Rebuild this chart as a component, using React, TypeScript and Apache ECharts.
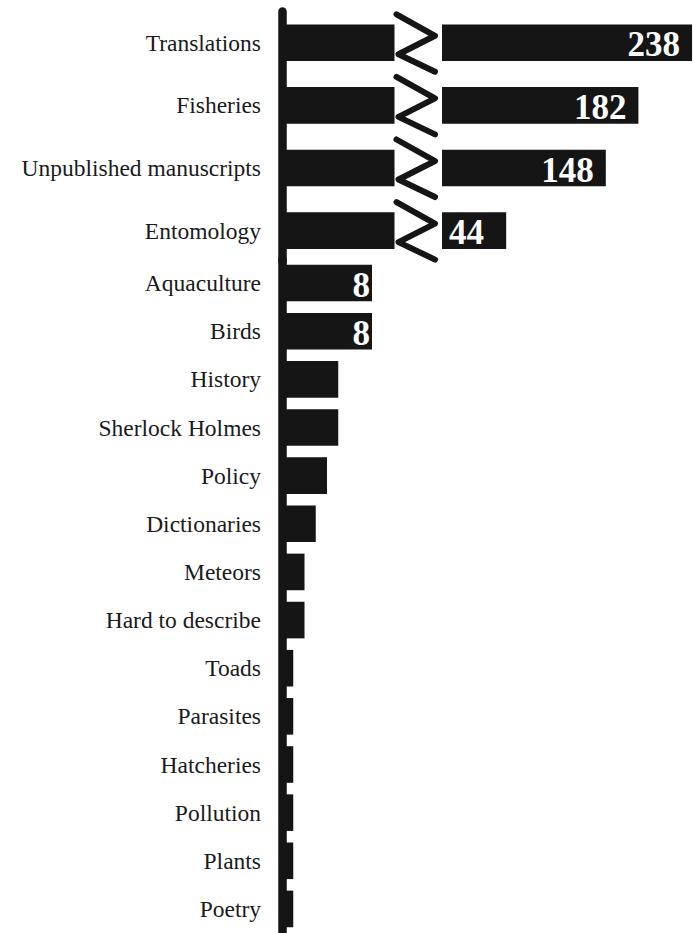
import { useEffect, useRef } from "react";
import * as echarts from "echarts";

// ---- data ----
const topCategories = ["Translations", "Fisheries", "Unpublished manuscripts", "Entomology"];
const topValues = [238, 182, 148, 44];
const restCategories = [
  "Aquaculture",
  "Birds",
  "History",
  "Sherlock Holmes",
  "Policy",
  "Dictionaries",
  "Meteors",
  "Hard to describe",
  "Toads",
  "Parasites",
  "Hatcheries",
  "Pollution",
  "Plants",
  "Poetry",
];
const restValues = [8, 8, 5, 5, 4, 3, 2, 2, 1, 1, 1, 1, 1, 1];

// broken-axis settings
const BREAK_AT = 10; // bars longer than this are broken
const LABEL_MIN = 8; // values shown as labels from here on
const MAIN_MAX = 36;
const UPPER_MIN = -23; // compressed scale used after the break
const UPPER_MAX = 239;

const INK = "#151515";
const BAR_W = 36.6;
const SERIF = "'Liberation Serif', 'Times New Roman', serif";

export default function App() {
  const ref = useRef<HTMLDivElement>(null);

  useEffect(() => {
    const chart = echarts.init(ref.current!, null, { renderer: "svg" });

    const valueLabel = (text: string, x: number, y: number, align: string) => ({
      type: "text",
      style: {
        text,
        x,
        y,
        align,
        verticalAlign: "middle",
        fill: "#ffffff",
        fontSize: 35,
        fontWeight: "bold",
        fontFamily: SERIF,
      },
    });

    const catAxis = (gridIndex: number, data: string[], show: boolean) => ({
      type: "category",
      gridIndex,
      data,
      inverse: true,
      show,
      axisLine: { show: true, lineStyle: { color: INK, width: 8.5, cap: "round" } },
      axisTick: { show: false },
      axisLabel: { margin: 21, fontSize: 23.5, fontFamily: SERIF, color: "#1a1a1a" },
      splitLine: { show: false },
    });

    const option = {
      animation: false,
      backgroundColor: "#ffffff",
      grid: [
        { left: 282, top: 11.5, width: 405, height: 250.4 },
        { left: 282, top: 259, width: 405, height: 678.4 },
        { left: 442, top: 11.5, width: 251, height: 250.4 },
      ],
      xAxis: [
        { type: "value", gridIndex: 0, min: 0, max: MAIN_MAX, show: false },
        { type: "value", gridIndex: 1, min: 0, max: MAIN_MAX, show: false },
        { type: "value", gridIndex: 2, min: UPPER_MIN, max: UPPER_MAX, show: false },
      ],
      yAxis: [
        catAxis(0, topCategories, true),
        catAxis(1, restCategories, true),
        catAxis(2, topCategories, false),
      ],
      series: [
        {
          type: "custom",
          xAxisIndex: 0,
          yAxisIndex: 0,
          data: topValues.map((v, i) => [v, i]),
          encode: { x: 0, y: 1 },
          renderItem: (_params: any, api: any) => {
            const v = api.value(0);
            const i = api.value(1);
            const start = api.coord([0, i]);
            const end = api.coord([Math.min(v, BREAK_AT), i]);
            const children: any[] = [
              {
                type: "rect",
                shape: { x: start[0], y: start[1] - BAR_W / 2, width: end[0] - start[0], height: BAR_W },
                style: { fill: INK },
              },
            ];
            if (v > BREAK_AT) {
              const bx = end[0];
              const cy = end[1];
              children.push({
                type: "polyline",
                shape: {
                  points: [
                    [bx + 2, cy - 28.5],
                    [bx + 40.5, cy - 7],
                    [bx + 4, cy + 11.5],
                    [bx + 40.5, cy + 29],
                  ],
                },
                style: { stroke: INK, lineWidth: 6, lineCap: "round", lineJoin: "round", fill: null },
              });
            }
            return { type: "group", children };
          },
        },
        {
          type: "custom",
          xAxisIndex: 2,
          yAxisIndex: 2,
          data: topValues.map((v, i) => [v, i]),
          encode: { x: 0, y: 1 },
          renderItem: (_params: any, api: any) => {
            const v = api.value(0);
            const i = api.value(1);
            if (v <= BREAK_AT) return { type: "group", children: [] };
            const base = api.coord([UPPER_MIN, i]);
            const end = api.coord([v, i]);
            const w = end[0] - base[0];
            const children: any[] = [
              {
                type: "rect",
                shape: { x: base[0], y: base[1] - BAR_W / 2, width: w, height: BAR_W },
                style: { fill: INK },
              },
            ];
            if (v >= LABEL_MIN) {
              const txt = String(v);
              if (w > 100) children.push(valueLabel(txt, end[0] - 12, end[1] + 2, "right"));
              else children.push(valueLabel(txt, base[0] + 7, end[1] + 2, "left"));
            }
            return { type: "group", children };
          },
        },
        {
          type: "bar",
          xAxisIndex: 1,
          yAxisIndex: 1,
          barWidth: BAR_W,
          itemStyle: { color: INK },
          data: restValues.map((v) => ({ value: v, label: { show: v >= LABEL_MIN } })),
          label: {
            position: "insideRight",
            distance: 2,
            color: "#ffffff",
            fontSize: 35,
            fontWeight: "bold",
            fontFamily: SERIF,
            offset: [0, 2],
          },
        },
      ],
    };

    chart.setOption(option as any);
    return () => chart.dispose();
  }, []);

  return (
    <div
      ref={ref}
      style={{ position: "fixed", left: 0, top: 0, width: 693, height: 933, background: "#ffffff" }}
    />
  );
}
